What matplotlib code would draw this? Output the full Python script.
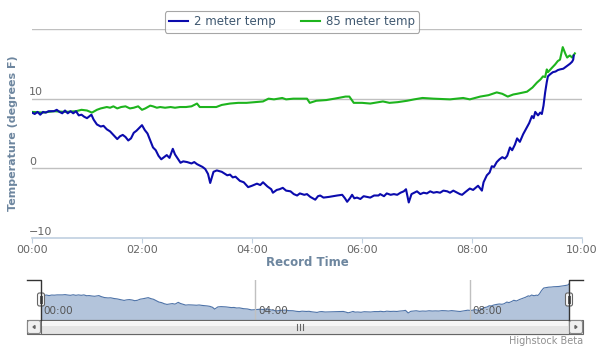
import numpy as np
import matplotlib
matplotlib.use("Agg")
import matplotlib.pyplot as plt
from matplotlib.patches import Rectangle, FancyBboxPatch
from matplotlib.lines import Line2D
from matplotlib.ticker import FuncFormatter

# 2 meter temperature (hours since start, degrees F)
t2_hours = [0.00, 0.05, 0.10, 0.15, 0.20, 0.25, 0.30, 0.40, 0.45, 0.50, 0.55, 0.60, 0.65, 0.70,
            0.75, 0.80, 0.85, 0.90, 0.95, 1.00, 1.05, 1.08, 1.12, 1.18, 1.25, 1.30, 1.36, 1.42,
            1.48, 1.55, 1.60, 1.65, 1.70, 1.75, 1.80, 1.85, 1.90, 1.95, 2.00, 2.05, 2.10, 2.15,
            2.20, 2.25, 2.30, 2.35, 2.40, 2.45, 2.50, 2.56, 2.60, 2.65, 2.70, 2.75, 2.82, 2.90,
            2.95, 3.00, 3.05, 3.10, 3.15, 3.20, 3.24, 3.30, 3.36, 3.45, 3.55, 3.60, 3.65, 3.70,
            3.78, 3.85, 3.93, 4.00, 4.09, 4.15, 4.20, 4.28, 4.35, 4.38, 4.45, 4.50, 4.56, 4.62,
            4.70, 4.76, 4.82, 4.87, 4.95, 5.00, 5.06, 5.15, 5.20, 5.24, 5.30, 5.40, 5.47, 5.55,
            5.64, 5.69, 5.73, 5.78, 5.82, 5.86, 5.91, 5.97, 6.03, 6.09, 6.15, 6.22, 6.30, 6.33,
            6.40, 6.45, 6.52, 6.58, 6.64, 6.70, 6.76, 6.80, 6.85, 6.90, 6.95, 7.00, 7.06, 7.12,
            7.18, 7.24, 7.30, 7.36, 7.42, 7.48, 7.55, 7.60, 7.66, 7.73, 7.78, 7.82, 7.88, 7.96,
            8.02, 8.11, 8.18, 8.21, 8.27, 8.32, 8.36, 8.40, 8.45, 8.50, 8.55, 8.60, 8.64, 8.69,
            8.73, 8.78, 8.82, 8.87, 8.93, 9.00, 9.04, 9.09, 9.12, 9.15, 9.20, 9.24, 9.27, 9.30,
            9.33, 9.36, 9.38, 9.42, 9.47, 9.52, 9.56, 9.60, 9.66, 9.73, 9.78, 9.82, 9.84, 9.85]
t2_temp = [8.0, 7.8, 8.1, 7.7, 8.1, 8.0, 8.2, 8.2, 8.4, 8.1, 7.9, 8.3, 7.9, 8.2,
           7.9, 8.2, 7.6, 7.7, 7.4, 7.2, 7.5, 7.7, 7.0, 6.3, 6.0, 6.1, 5.6, 5.3,
           4.8, 4.2, 4.6, 4.8, 4.5, 4.0, 4.3, 5.1, 5.4, 5.8, 6.2, 5.5, 5.0, 4.0,
           3.0, 2.6, 1.8, 1.3, 1.6, 1.9, 1.5, 2.8, 2.0, 1.4, 0.8, 1.0, 0.9, 0.7,
           0.9, 0.6, 0.4, 0.2, -0.1, -0.8, -2.1, -0.5, -0.3, -0.5, -1.0, -0.9, -1.3, -1.2,
           -1.8, -2.0, -2.7, -2.5, -2.2, -2.4, -2.0, -2.6, -3.0, -3.5, -3.1, -3.0, -2.8, -3.2,
           -3.3, -3.7, -3.9, -3.6, -3.8, -3.7, -4.1, -4.5, -4.0, -3.9, -4.2, -4.1, -4.0, -3.9,
           -3.8, -4.3, -4.8, -4.3, -3.8, -4.3, -4.2, -4.4, -4.0, -4.1, -4.2, -3.9, -3.9, -3.7,
           -4.0, -3.6, -3.8, -3.7, -3.8, -3.5, -3.3, -3.0, -4.9, -3.7, -3.5, -3.3, -3.7, -3.5,
           -3.6, -3.3, -3.5, -3.4, -3.5, -3.2, -3.3, -3.5, -3.2, -3.5, -3.7, -3.8, -3.4, -2.9,
           -3.1, -2.5, -3.2, -2.0, -1.0, -0.6, 0.3, 0.2, 0.9, 1.3, 1.6, 1.4, 1.8, 3.0,
           2.6, 3.4, 4.3, 3.8, 4.9, 5.9, 6.5, 7.5, 7.2, 8.1, 7.6, 8.0, 7.8, 9.0,
           10.9, 12.4, 13.2, 13.5, 13.8, 13.9, 14.1, 14.2, 14.3, 14.7, 15.0, 15.3, 15.6, 16.2]

# 85 meter temperature
t85_hours = [0.00, 0.20, 0.40, 0.60, 0.80, 0.90, 1.00, 1.09, 1.18, 1.25, 1.36, 1.42, 1.48, 1.55,
             1.62, 1.70, 1.78, 1.85, 1.93, 2.00, 2.06, 2.15, 2.20, 2.27, 2.33, 2.42, 2.52, 2.60,
             2.69, 2.80, 2.90, 3.00, 3.05, 3.10, 3.20, 3.35, 3.45, 3.60, 3.75, 3.90, 4.05, 4.20,
             4.30, 4.40, 4.55, 4.62, 4.75, 4.87, 5.00, 5.05, 5.17, 5.35, 5.50, 5.70, 5.77, 5.85,
             6.00, 6.15, 6.38, 6.50, 6.65, 6.82, 6.95, 7.10, 7.30, 7.60, 7.84, 7.96, 8.15, 8.30,
             8.45, 8.55, 8.65, 8.75, 8.82, 9.00, 9.10, 9.18, 9.25, 9.29, 9.33, 9.36, 9.38, 9.45,
             9.51, 9.56, 9.60, 9.65, 9.70, 9.73, 9.76, 9.78, 9.82, 9.87]
t85_temp = [8.1, 8.0, 8.2, 8.1, 8.2, 8.4, 8.3, 8.0, 8.4, 8.6, 8.8, 8.7, 8.9, 8.6,
            8.8, 8.9, 8.6, 8.7, 8.9, 8.4, 8.6, 9.0, 8.9, 8.7, 8.8, 8.7, 8.8, 8.7,
            8.8, 8.8, 8.9, 9.3, 8.8, 8.8, 8.8, 8.8, 9.1, 9.3, 9.4, 9.4, 9.5, 9.6,
            10.0, 9.9, 10.1, 9.9, 10.0, 10.0, 10.0, 9.4, 9.7, 9.8, 10.0, 10.3, 10.3, 9.4,
            9.4, 9.3, 9.6, 9.4, 9.5, 9.7, 9.9, 10.1, 10.0, 9.9, 10.1, 9.9, 10.3, 10.5,
            10.9, 10.7, 10.3, 10.6, 10.7, 11.0, 11.6, 12.3, 12.8, 13.2, 13.1, 14.2, 13.8, 14.4,
            14.9, 15.4, 15.6, 17.4, 16.4, 15.9, 16.1, 16.2, 15.9, 16.5]

tick_hours = [0, 2, 4, 6, 8, 10]
nav_tick_hours = [0, 4, 8]
ytick_vals = [-10, 0, 10]

W, H = 596, 352
BLUE = "#0b0bad"
GREEN = "#1db41d"
TITLE_C = "#6d869f"
LABEL_C = "#666666"

fig = plt.figure(figsize=(W / 100, H / 100), dpi=100)


def box(l, t, r, b):
    return [l / W, 1 - b / H, (r - l) / W, (b - t) / H]


def hhmm(v, pos=None):
    return "%02d:00" % int(round(v))


# main chart
ax = fig.add_axes(box(32, 29, 582, 238))
ax.plot(t85_hours, t85_temp, color=GREEN, lw=1.5, label="85 meter temp", zorder=3)
ax.plot(t2_hours, t2_temp, color=BLUE, lw=1.5, label="2 meter temp", zorder=4)
ax.set_xlim(0, 10)
ax.set_ylim(-10, 20)
for v in [0, 10, 20]:
    ax.axhline(v, color="#c0c0c0", lw=1, zorder=1)
for s in ["top", "left", "right"]:
    ax.spines[s].set_visible(False)
ax.spines["bottom"].set_color("#c0d0e0")
ax.spines["bottom"].set_linewidth(1.2)
ax.set_xticks(tick_hours)
ax.xaxis.set_major_formatter(FuncFormatter(hhmm))
ax.tick_params(axis="x", direction="out", length=3.6, color="#c0d0e0", labelsize=8,
               labelcolor=LABEL_C, pad=1.5)
ax.set_yticks([])
for v in ytick_vals:
    ax.annotate(str(v).replace("-", "\u2212"), xy=(0, v), xytext=(-2, 1), textcoords="offset points",
                ha="left", va="bottom", fontsize=8, color=LABEL_C, annotation_clip=False)

fig.text(13 / W, 1 - 133 / H, "Temperature (degrees F)", rotation=90, ha="center", va="center",
         color=TITLE_C, fontsize=8, fontweight="bold")
fig.text(307 / W, 1 - 263 / H, "Record Time", ha="center", va="center",
         color=TITLE_C, fontsize=8.5, fontweight="bold")

handles = [Line2D([], [], color=BLUE, lw=1.5), Line2D([], [], color=GREEN, lw=1.5)]
leg = fig.legend(handles, ["2 meter temp", "85 meter temp"], loc="center",
                 bbox_to_anchor=(292 / W, 1 - 22 / H), ncol=2, fontsize=8.5, frameon=True,
                 fancybox=True, edgecolor="#909090", handlelength=1.6, handletextpad=0.5,
                 columnspacing=2.2, borderpad=0.35)
leg.get_frame().set_linewidth(0.8)
for txt in leg.get_texts():
    txt.set_color("#3e576f")

# navigator
nav = fig.add_axes(box(41, 280, 569, 320))
nav.fill_between(t2_hours, t2_temp, -10, color="#b3c4db", lw=0, zorder=2)
nav.plot(t2_hours, t2_temp, color="#4e73a8", lw=0.8, zorder=3)
nav.set_xlim(0, 9.85)
nav.set_ylim(-10, 19)
nav.axis("off")
for h in nav_tick_hours:
    if h > 0:
        nav.axvline(h, color="#c0c0c0", lw=1, zorder=4)
    nav.annotate(hhmm(h), xy=(h, 0), xycoords=("data", "axes fraction"), xytext=(2, 3),
                 textcoords="offset points", ha="left", va="bottom", fontsize=7.5,
                 color="#555555", zorder=5)

# decorations drawn in pixel space
deco = fig.add_axes([0, 0, 1, 1], zorder=5)
deco.set_xlim(0, W)
deco.set_ylim(H, 0)
deco.axis("off")
deco.patch.set_alpha(0)

# scrollbar track and thumb
deco.add_patch(Rectangle((27, 320), 556, 14, facecolor="#eeeeee", edgecolor="#666666", lw=0.8))
deco.add_patch(Rectangle((41, 320), 528, 14, facecolor="#e4e4e4", edgecolor="#666666", lw=0.8))
deco.add_patch(Rectangle((42, 321), 526, 5, facecolor="#f6f6f6", lw=0))
for bx in (27, 569):
    deco.add_patch(FancyBboxPatch((bx + 0.5, 320.5), 13, 13, boxstyle="round,pad=0,rounding_size=2",
                                  facecolor="#f0f0f0", edgecolor="#888888", lw=0.8))
deco.fill([33, 35, 35], [327, 325.5, 328.5], color="#666666")
deco.fill([577, 575, 575], [327, 325.5, 328.5], color="#666666")
for gx in (297, 300, 303):
    deco.plot([gx, gx], [324, 330], color="#666666", lw=0.8)

# navigator mask outline
deco.plot([27, 41, 41], [280, 280, 320], color="#333333", lw=1)
deco.plot([583, 569, 569], [280, 280, 320], color="#333333", lw=1)

# handles
for hx in (41, 569):
    deco.add_patch(FancyBboxPatch((hx - 3.5, 293), 7, 13, boxstyle="round,pad=0,rounding_size=2",
                                  facecolor="#f8f8f8", edgecolor="#666666", lw=0.8))
    deco.plot([hx - 1, hx - 1], [296, 303], color="#555555", lw=0.7)
    deco.plot([hx + 1, hx + 1], [296, 303], color="#555555", lw=0.7)

fig.text(583 / W, 1 - 341 / H, "Highstock Beta", ha="right", va="center", fontsize=7,
         color="#909090")

fig.savefig("out.png", dpi=100)
